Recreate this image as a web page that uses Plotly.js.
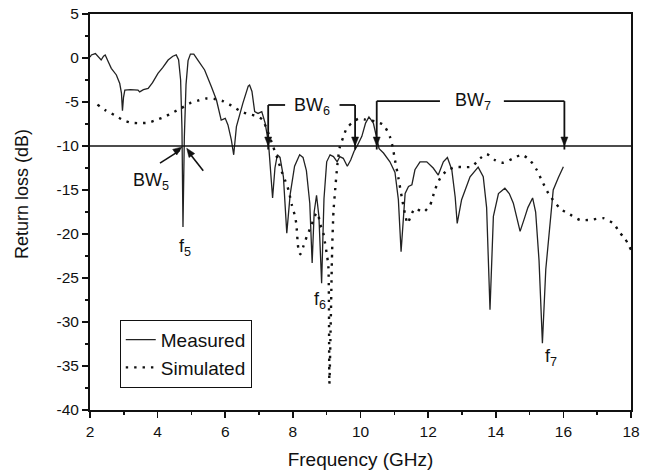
<!DOCTYPE html>
<html>
<head>
<meta charset="utf-8">
<script src="https://cdn.plot.ly/plotly-3.0.1.min.js"></script>
<style>
  html, body { margin: 0; padding: 0; background: #fff; }
  #chart { width: 655px; height: 475px; }
</style>
</head>
<body>
<div id="chart"></div>
<script>
// ---- data ----
const measuredFreq = [2.00,2.04,2.16,2.25,2.33,2.40,2.45,2.55,2.63,2.78,2.88,2.93,2.96,2.99,3.03,3.20,3.42,3.47,3.58,3.72,3.85,4.01,4.15,4.31,4.45,4.55,4.62,4.68,4.72,4.75,4.79,4.84,4.90,4.97,5.07,5.20,5.39,5.59,5.74,5.88,6.00,6.08,6.18,6.25,6.33,6.52,6.68,6.72,6.79,6.87,6.97,7.08,7.18,7.28,7.33,7.40,7.47,7.54,7.62,7.72,7.82,7.92,8.05,8.20,8.30,8.40,8.50,8.57,8.63,8.70,8.77,8.85,8.92,9.00,9.10,9.20,9.31,9.39,9.49,9.61,9.71,9.81,9.90,10.04,10.15,10.25,10.38,10.48,10.55,10.68,10.87,11.02,11.12,11.20,11.27,11.32,11.42,11.52,11.61,11.76,11.96,12.15,12.30,12.45,12.57,12.70,12.80,12.86,12.99,13.24,13.48,13.63,13.73,13.83,13.93,14.08,14.27,14.40,14.52,14.62,14.72,14.85,14.95,15.09,15.18,15.28,15.38,15.48,15.58,15.70,15.85,16.00];
const measuredRL = [0.1,0.34,0.5,0.1,-0.23,0.2,0.34,-0.5,-1.17,-1.93,-2.9,-4.0,-6.0,-4.5,-3.64,-3.6,-3.64,-3.85,-3.6,-3.45,-2.8,-1.74,-1.1,-0.23,0.2,0.35,-0.2,-2.5,-8.0,-19.2,-9.0,-3.0,-0.3,0.45,0.45,-0.3,-1.36,-3.26,-4.77,-7.05,-6.86,-7.6,-9.3,-11.0,-7.8,-5.15,-3.2,-3.07,-3.8,-6.1,-6.3,-6.1,-7.4,-9.7,-12.5,-15.9,-12.5,-11.0,-11.3,-13.5,-19.9,-15.5,-12.3,-11.0,-11.3,-12.8,-16.5,-23.3,-17.5,-15.6,-18.0,-25.6,-16.0,-11.8,-11.0,-11.2,-11.8,-11.2,-11.4,-12.3,-11.6,-10.6,-10.0,-8.9,-7.4,-6.7,-7.4,-9.3,-10.3,-10.8,-11.8,-13.0,-16.1,-22.0,-17.5,-15.4,-14.6,-14.4,-12.7,-11.8,-11.8,-12.5,-13.3,-11.8,-11.3,-12.7,-15.8,-18.8,-16.1,-13.5,-12.4,-13.5,-17.0,-28.6,-18.0,-15.4,-14.8,-15.4,-16.5,-18.0,-19.7,-18.2,-17.0,-15.9,-17.5,-23.0,-32.4,-24.0,-19.5,-15.0,-13.6,-12.35];

const simulatedFreq = [2.22,2.48,2.73,2.98,3.22,3.47,3.72,3.96,4.21,4.45,4.70,4.95,5.19,5.44,5.69,5.93,6.18,6.43,6.67,6.92,7.10,7.25,7.42,7.55,7.67,7.77,7.87,7.97,8.05,8.10,8.16,8.22,8.31,8.41,8.55,8.70,8.75,8.80,8.90,8.95,9.00,9.05,9.08,9.12,9.16,9.20,9.25,9.32,9.39,9.49,9.59,9.74,9.94,10.15,10.43,10.68,10.87,10.95,11.02,11.12,11.22,11.32,11.39,11.52,11.61,11.86,12.06,12.20,12.35,12.55,12.80,13.04,13.29,13.54,13.73,13.98,14.22,14.52,14.77,15.01,15.21,15.36,15.56,15.90,16.20,16.49,16.79,17.18,17.48,17.68,17.82,18.00];
const simulatedRL = [-5.3,-6.0,-6.5,-7.05,-7.35,-7.4,-7.35,-7.05,-6.67,-6.2,-5.7,-5.15,-4.85,-4.6,-4.66,-4.9,-5.4,-6.0,-6.36,-6.6,-7.0,-8.3,-10.1,-11.5,-12.9,-13.9,-15.0,-16.7,-17.8,-18.8,-21.6,-22.3,-21.4,-20.3,-19.0,-17.6,-17.8,-18.8,-19.9,-21.0,-22.2,-23.7,-37.0,-30.0,-22.0,-17.5,-15.0,-12.0,-10.1,-9.0,-8.0,-7.4,-6.9,-7.0,-7.2,-7.6,-8.95,-10.1,-11.6,-13.6,-15.8,-17.8,-18.8,-17.65,-17.1,-17.5,-16.7,-15.0,-13.7,-12.8,-12.4,-12.4,-12.35,-11.4,-10.9,-11.6,-11.9,-11.4,-11.0,-11.6,-12.7,-13.9,-15.4,-17.1,-17.8,-18.4,-18.4,-18.2,-18.8,-19.9,-20.5,-21.8];

const seriesNames = ["Measured", "Simulated"];
const xTickVals = [2,4,6,8,10,12,14,16,18];
const xTickText = ["2","4","6","8","10","12","14","16","18"];
const yTickVals = [5,0,-5,-10,-15,-20,-25,-30,-35,-40];
const yTickText = ["5","0","-5","-10","-15","-20","-25","-30","-35","-40"];
const threshold = -10;

// ---- chart ----
const FONT = "Liberation Sans, Arial, Helvetica, sans-serif";
const INK = "#111";

const traces = [
  { x: measuredFreq, y: measuredRL, name: seriesNames[0], type: "scatter", mode: "lines",
    line: { color: "#222", width: 1.3 } },
  { x: simulatedFreq, y: simulatedRL, name: seriesNames[1], type: "scatter", mode: "lines",
    line: { color: "#111", width: 2.4, dash: "2.4px,6px", shape: "spline", smoothing: 0.6 } }
];

// straight segment in data coordinates
function seg(x0, y0, x1, y1, w) {
  return { type: "line", xref: "x", yref: "y", x0: x0, y0: y0, x1: x1, y1: y1,
    line: { color: INK, width: w || 1.8 } };
}
// filled arrow head (pixel-sized triangle) anchored at a data point
function head(x, y, path) {
  return { type: "path", xref: "x", yref: "y", xsizemode: "pixel", ysizemode: "pixel",
    xanchor: x, yanchor: y, path: path, fillcolor: INK, line: { color: INK, width: 0.5 } };
}
const DOWN = "M0,0 L-3.5,9 L3.5,9 Z";

function label(x, y, txt) {
  return { x: x, y: y, xref: "x", yref: "y", text: txt, showarrow: false,
    font: { family: FONT, size: 18, color: INK }, xanchor: "center", yanchor: "middle" };
}

const layout = {
  width: 655, height: 475,
  margin: { l: 90, r: 24, t: 14, b: 65, pad: 0 },
  paper_bgcolor: "#fff", plot_bgcolor: "#fff",
  font: { family: FONT, color: INK, size: 15 },
  showlegend: true,
  legend: { x: 0.055, y: 0.056, xanchor: "left", yanchor: "bottom",
    bordercolor: INK, borderwidth: 1, bgcolor: "#fff",
    font: { family: FONT, size: 19, color: INK }, tracegroupgap: 0 },
  xaxis: {
    range: [2, 18], tickmode: "array", tickvals: xTickVals, ticktext: xTickText,
    ticks: "outside", ticklen: 6, tickwidth: 1.6, tickcolor: INK,
    minor: { dtick: 1, ticks: "outside", ticklen: 3, tickwidth: 1.6, tickcolor: INK },
    showline: true, linewidth: 2, linecolor: INK, mirror: true,
    showgrid: false, zeroline: false,
    tickfont: { family: FONT, size: 15.5, color: INK },
    title: { text: "Frequency (GHz)", font: { family: FONT, size: 19, color: INK }, standoff: 14 }
  },
  yaxis: {
    range: [-40, 5], tickmode: "array", tickvals: yTickVals, ticktext: yTickText,
    ticks: "outside", ticklen: 6, tickwidth: 1.6, tickcolor: INK,
    minor: { dtick: 2.5, ticks: "outside", ticklen: 3, tickwidth: 1.6, tickcolor: INK },
    showline: true, linewidth: 2, linecolor: INK, mirror: true,
    showgrid: false, zeroline: false,
    tickfont: { family: FONT, size: 15.5, color: INK }
  },
  shapes: [
    seg(2, threshold, 18, threshold, 1.6),
    // BW5 arrows
    seg(4.07, -11.95, 4.66, -10.5, 1.6),
    head(4.72, -10.1, "M0,0 L-9.3,-2.5 L-5.2,-8.1 Z"),
    seg(5.35, -12.8, 4.92, -10.7, 1.6),
    head(4.86, -10.25, "M0,0 L2.3,-9.4 L8,-5.4 Z"),
    // BW6 bracket
    seg(7.27, -5.34, 7.77, -5.34), seg(9.38, -5.34, 9.84, -5.34),
    seg(7.27, -5.34, 7.27, -10.4), seg(9.84, -5.34, 9.84, -10.4),
    head(7.27, threshold, DOWN), head(9.84, threshold, DOWN),
    // BW7 bracket
    seg(10.48, -4.9, 12.35, -4.9), seg(14.24, -4.9, 16.03, -4.9),
    seg(10.48, -4.9, 10.48, -10.4), seg(16.03, -4.9, 16.03, -10.4),
    head(10.48, threshold, DOWN), head(16.03, threshold, DOWN)
  ],
  annotations: [
    { x: -0.126, y: 0.545, xref: "paper", yref: "paper", text: "Return loss (dB)", textangle: -90,
      showarrow: false, font: { family: FONT, size: 18, color: INK }, xanchor: "center", yanchor: "middle" },
    label(3.8, -14.0, "BW<sub>5</sub>"),
    label(4.82, -21.5, "f<sub>5</sub>"),
    label(8.57, -5.5, "BW<sub>6</sub>"),
    label(8.8, -27.6, "f<sub>6</sub>"),
    label(13.33, -4.9, "BW<sub>7</sub>"),
    label(15.63, -34.0, "f<sub>7</sub>")
  ]
};

Plotly.newPlot("chart", traces, layout, { displayModeBar: false, staticPlot: true });
</script>
</body>
</html>
